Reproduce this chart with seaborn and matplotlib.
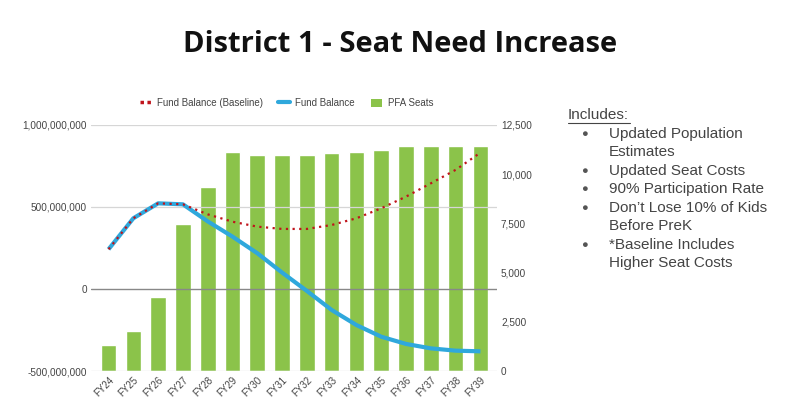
import numpy as np
import pandas as pd
import matplotlib
matplotlib.use("Agg")
import matplotlib.pyplot as plt
import seaborn as sns
from matplotlib.ticker import FuncFormatter
from matplotlib.lines import Line2D
from matplotlib.patches import Patch

# data
years = ["FY24", "FY25", "FY26", "FY27", "FY28", "FY29", "FY30", "FY31",
         "FY32", "FY33", "FY34", "FY35", "FY36", "FY37", "FY38", "FY39"]
pfa_seats = [1320, 2050, 3760, 7470, 9350, 11140, 10975, 10975,
             10975, 11060, 11130, 11250, 11430, 11430, 11430, 11430]
fund_balance = [242e6, 431e6, 522e6, 516e6, 412e6, 319e6, 218e6, 100e6,
                -12e6, -128e6, -220e6, -291e6, -335e6, -362e6, -376e6, -380e6]
fund_baseline = [242e6, 431e6, 522e6, 516e6, 455e6, 410e6, 380e6, 366e6,
                 366e6, 390e6, 431e6, 492e6, 563e6, 644e6, 726e6, 831e6]
includes = ["Updated Population\nEstimates", "Updated Seat Costs",
            "90% Participation Rate", "Don\u2019t Lose 10% of Kids\nBefore PreK",
            "*Baseline Includes\nHigher Seat Costs"]

GREEN = "#8bc34a"
BLUE = "#2fa8dc"
RED = "#c0141c"
TXT = "#444444"

sns.set_theme(style="white")
plt.rcParams["font.family"] = ["Liberation Sans", "DejaVu Sans"]

df = pd.DataFrame({"year": years, "seats": pfa_seats,
                   "fb": fund_balance, "base": fund_baseline})
df["x"] = np.arange(len(years))

fig = plt.figure(figsize=(8, 4.15), dpi=100)
ax = fig.add_axes([0.114, 0.106, 0.507, 0.593])
ax2 = ax.twinx()

# bars on the right axis
sns.barplot(data=df, x="year", y="seats", color=GREEN, width=0.63,
            saturation=1, ax=ax2, zorder=1)
ax2.set_ylim(0, 12500)
ax2.set_yticks([0, 2500, 5000, 7500, 10000, 12500])
ax2.yaxis.set_major_formatter(FuncFormatter(lambda v, p: f"{v:,.0f}"))

# lines on the left axis, drawn above the bars
ax.set_zorder(ax2.get_zorder() + 1)
ax.patch.set_visible(False)
sns.lineplot(data=df, x="x", y="fb", color=BLUE, linewidth=3, ax=ax,
             solid_capstyle="butt")
sns.lineplot(data=df, x="x", y="base", color=RED, linewidth=1.6, ax=ax,
             linestyle=(0, (1, 2)))
ax.set_ylim(-500e6, 1000e6)
ax.set_yticks([-500e6, 0, 500e6, 1000e6])
ax.yaxis.set_major_formatter(FuncFormatter(lambda v, p: f"{v:,.0f}"))
for yv in [-500e6, 500e6, 1000e6]:
    ax.axhline(yv, color="#d6d6d6", linewidth=0.9, zorder=0)
ax.axhline(0, color="#888888", linewidth=1.0, zorder=0)

for a in (ax, ax2):
    a.set_xlim(-0.7, 15.66)
    a.set_xlabel("")
    a.set_ylabel("")
    for s in a.spines.values():
        s.set_visible(False)
    a.tick_params(axis="y", length=0, labelsize=7.2, labelcolor=TXT, pad=3)

ax.set_xticks(df["x"])
ax.set_xticklabels(years, rotation=45, ha="right", rotation_mode="anchor",
                   fontsize=7, color=TXT)
ax.tick_params(axis="x", length=0, pad=3)
ax2.tick_params(axis="x", bottom=False, labelbottom=False)

handles = [Line2D([0], [0], color=RED, linewidth=2.5, linestyle=(0, (1, 1)),
                  dash_capstyle="butt"),
           Line2D([0], [0], color=BLUE, linewidth=3),
           Patch(facecolor=GREEN, edgecolor="none")]
fig.legend(handles, ["Fund Balance (Baseline)", "Fund Balance", "PFA Seats"],
           loc="center", bbox_to_anchor=(0.358, 0.752), ncol=3, frameon=False,
           fontsize=7, handlelength=1.2, handleheight=0.9, columnspacing=1.6,
           handletextpad=0.55, labelcolor=TXT)

fig.text(0.5, 0.893, "District 1 - Seat Need Increase", ha="center", va="center",
         fontsize=21, fontweight="bold", color="#111111",
         family=["Open Sans", "DejaVu Sans"])

# side notes
fig.text(0.71, 0.722, "Includes:", fontsize=11, color=TXT, va="center")
fig.add_artist(Line2D([0.71, 0.787], [0.704, 0.704], color=TXT, linewidth=0.8))
y = 0.678
step = 18.5 / 415
for item in includes:
    fig.text(0.731, y, "\u25cf", fontsize=8, color="#555555", va="center", ha="center")
    for k, line in enumerate(item.split("\n")):
        fig.text(0.761, y - k * step, line, fontsize=11, color=TXT, va="center")
    y -= step * (item.count("\n") + 1)

fig.savefig("out.png", dpi=100, facecolor="white")
